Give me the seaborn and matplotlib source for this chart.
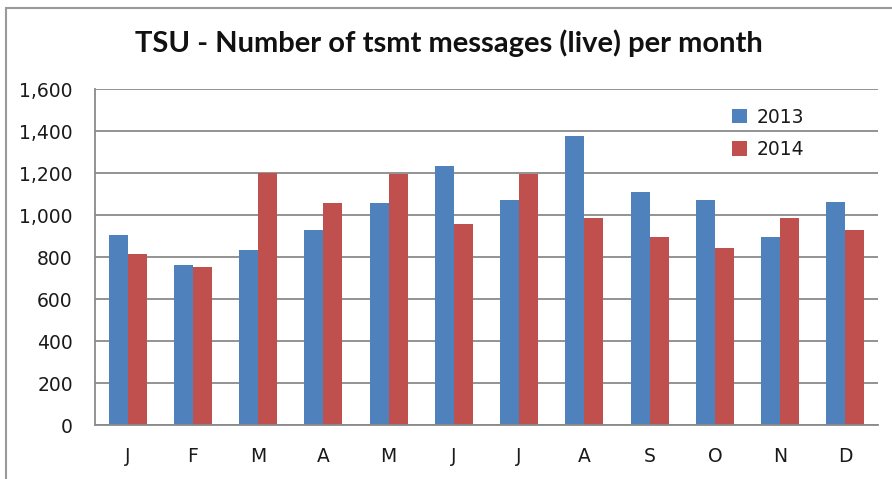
import numpy as np
import pandas as pd
import matplotlib
matplotlib.use('Agg')
import matplotlib.pyplot as plt
from matplotlib.patches import Rectangle
from matplotlib.ticker import FuncFormatter, FixedLocator
import seaborn as sns

# ── Data ─────────────────────────────────────────────────────────────
months = ['J', 'F', 'M', 'A', 'M', 'J', 'J', 'A', 'S', 'O', 'N', 'D']
vals_2013 = [905, 762, 834, 928, 1060, 1235, 1071, 1378, 1111, 1071, 898, 1061]
vals_2014 = [815, 755, 1203, 1060, 1195, 958, 1195, 988, 898, 845, 988, 928]
years = ['2013', '2014']
y_ticks = [0, 200, 400, 600, 800, 1000, 1200, 1400, 1600]

# long-form table; month index keeps the repeated letters apart
month_idx = list(range(len(months)))
df = pd.DataFrame({
    'month': month_idx * 2,
    'year':  [years[0]] * 12 + [years[1]] * 12,
    'count': vals_2013 + vals_2014,
})

sns.set_theme(style='white')
plt.rcParams['font.family'] = ['DejaVu Sans']

fig = plt.figure(figsize=(8.92, 4.79), dpi=100)
ax = fig.add_axes([0.1065, 0.1127, 0.9843 - 0.1065, 0.8136 - 0.1127])

grid_col = '#8a8a8a'
sns.barplot(data=df, x='month', y='count', hue='year',
            palette=['#4F81BD', '#C0504D'], width=0.58, gap=0,
            saturation=1, linewidth=0, ax=ax)

ax.set_ylim(0, 1600)
ax.set_xlim(-0.5, 11.5)
ax.set_yticks(y_ticks)
ax.yaxis.set_major_formatter(FuncFormatter(lambda v, p: '{:,.0f}'.format(v)))
ax.set_xticks(month_idx)
ax.set_xticklabels(months)
ax.xaxis.set_minor_locator(FixedLocator(np.arange(-0.5, 12, 1)))
ax.tick_params(axis='x', which='major', length=0, pad=16,
               labelsize=13.5, labelcolor='#1a1a1a')
ax.tick_params(axis='x', which='minor', length=5, width=1.3,
               color=grid_col, direction='out')
ax.tick_params(axis='y', length=5, width=1.3, color=grid_col,
               direction='out', pad=11, labelsize=13.5, labelcolor='#1a1a1a')
ax.yaxis.grid(True, color=grid_col, linewidth=1.3)
ax.set_axisbelow(True)
ax.set_xlabel('')
ax.set_ylabel('')

for side in ['top', 'right']:
    ax.spines[side].set_visible(False)
for side in ['left', 'bottom']:
    ax.spines[side].set_color(grid_col)
    ax.spines[side].set_linewidth(1.3)

leg = ax.legend(loc='upper left', bbox_to_anchor=(0.792, 0.995),
                frameon=False, fontsize=13.5, handlelength=0.8,
                handleheight=0.8, handletextpad=0.5, labelspacing=0.7)
for t in leg.get_texts():
    t.set_color('#1a1a1a')

fig.text(0.503, 0.910, 'TSU - Number of tsmt messages (live) per month',
         ha='center', va='center', fontsize=21, fontweight='bold',
         family='Lato', color='#111111')

# chart outer border (Excel chart area)
fig.patches.append(Rectangle((6 / 892, -0.1), 1.1, 1 - 8 / 479 + 0.1,
                             transform=fig.transFigure, fill=False,
                             edgecolor='#9a9a9a', linewidth=1.5))

fig.savefig('out.png', dpi=100)
plt.close(fig)
